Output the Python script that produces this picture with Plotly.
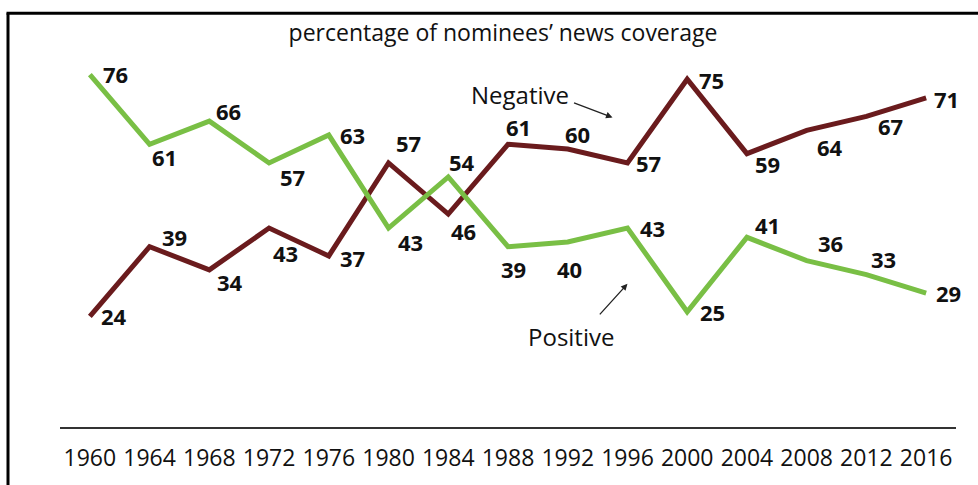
import plotly.graph_objects as go

# Presidential nominees' news coverage tone, percent of coverage
years = [1960, 1964, 1968, 1972, 1976, 1980, 1984, 1988, 1992, 1996, 2000, 2004, 2008, 2012, 2016]
positive = [76, 61, 66, 57, 63, 43, 54, 39, 40, 43, 25, 41, 36, 33, 29]
negative = [24, 39, 34, 43, 37, 57, 46, 61, 60, 57, 75, 59, 64, 67, 71]
tick_labels = [str(y) for y in years]

GREEN = "#79bf45"
MAROON = "#6a1b1d"
FONT = "Open Sans"

# Pixel offsets (dx, dy; dy positive = upward) for each value label
pos_offsets = [(26, 1), (15, -13), (19, 10), (23, -14), (24, 0), (22, -14), (14, 15),
               (5, -22), (2, -27), (25, 0), (25, 0), (21, 12), (24, 18), (17, 16), (22, 0)]
neg_offsets = [(24, 0), (25, 10), (21, -12), (16, -25), (24, -2), (20, 20), (15, -17),
               (10, 17), (10, 15), (21, 0), (24, -1), (21, -10), (23, -17), (24, -10), (20, -1)]

W, H = 978, 485
ML, MR, MT, MB = 60, 22, 56, 55
PW, PH = W - ML - MR, H - MT - MB

fig = go.Figure()
fig.add_trace(go.Scatter(x=years, y=negative, mode="lines", name="Negative",
                         line=dict(color=MAROON, width=5), hoverinfo="x+y"))
fig.add_trace(go.Scatter(x=years, y=positive, mode="lines", name="Positive",
                         line=dict(color=GREEN, width=5), hoverinfo="x+y"))

annotations = []
for series, offsets in ((positive, pos_offsets), (negative, neg_offsets)):
    for yr, val, (dx, dy) in zip(years, series, offsets):
        annotations.append(dict(x=yr, y=val, text=f"<b>{val}</b>", showarrow=False,
                                xshift=dx, yshift=dy,
                                font=dict(family=FONT, size=22, color="#111111")))

# Series names with pointer arrows
annotations.append(dict(x=1988.8, y=71.7, text="Negative", showarrow=False,
                        font=dict(family=FONT, size=24, color="#111111")))
annotations.append(dict(x=1995.0, y=66.8, text="", showarrow=True, arrowhead=2,
                        arrowsize=1, arrowwidth=1.3, arrowcolor="#222222",
                        axref="pixel", ayref="pixel", ax=-40, ay=-15))
annotations.append(dict(x=1992.2, y=19.7, text="Positive", showarrow=False,
                        font=dict(family=FONT, size=24, color="#111111")))
annotations.append(dict(x=1996.0, y=31.0, text="", showarrow=True, arrowhead=2,
                        arrowsize=1, arrowwidth=1.3, arrowcolor="#222222",
                        axref="pixel", ayref="pixel", ax=-29, ay=32))


def px_to_paper_x(px):
    return (px - ML) / PW


def px_to_paper_y(py):
    return (H - MB - py) / PH


# Frame: left and top rules
shapes = [
    dict(type="line", xref="paper", yref="paper",
         x0=px_to_paper_x(8), x1=px_to_paper_x(8),
         y0=px_to_paper_y(H + 5), y1=px_to_paper_y(13),
         line=dict(color="black", width=3)),
    dict(type="line", xref="paper", yref="paper",
         x0=px_to_paper_x(6.5), x1=px_to_paper_x(W + 5),
         y0=px_to_paper_y(13), y1=px_to_paper_y(13),
         line=dict(color="black", width=3)),
]

fig.update_layout(
    width=W, height=H,
    margin=dict(l=ML, r=MR, t=MT, b=MB),
    paper_bgcolor="white", plot_bgcolor="white",
    showlegend=False,
    title=dict(text="percentage of nominees\u2019 news coverage", x=503 / W, y=1 - 33 / H,
               xanchor="center", yanchor="middle",
               font=dict(family=FONT, size=23, color="#111111")),
    annotations=annotations,
    shapes=shapes,
    xaxis=dict(range=[1958, 2018], tickvals=years, ticktext=tick_labels,
               showgrid=False, zeroline=False, showline=False,
               ticks="", ticklabelstandoff=14,
               tickfont=dict(family=FONT, size=23, color="#111111")),
    yaxis=dict(range=[0, 80], showgrid=False, zeroline=True, zerolinecolor="#333333",
               zerolinewidth=1.5, showticklabels=False, ticks="", showline=False),
)

fig.write_html("out.html")
